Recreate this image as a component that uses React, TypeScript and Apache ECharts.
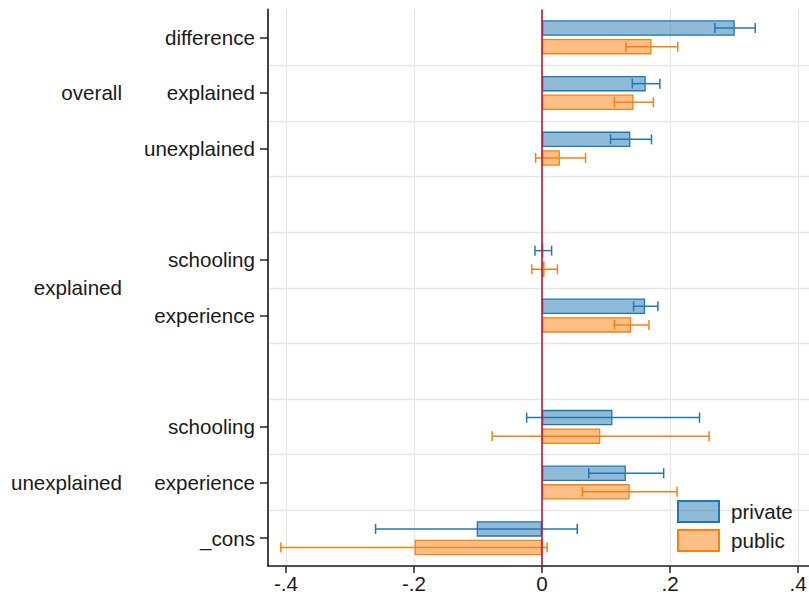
import React, { useEffect, useRef } from "react";
import * as echarts from "echarts";

// Rows of the y axis (top to bottom); blank rows are spacers
const rowKeys = ["o_diff", "o_expl", "o_unexpl", "gap1", "e_school", "e_exper", "gap2", "u_school", "u_exper", "u_cons"];
const rowLabels = ["difference", "explained", "unexplained", "", "schooling", "experience", "", "schooling", "experience", "_cons"];
// Group labels, positioned on a 0..10 row scale (row i centre = i + 0.5)
const groupPositions = [1.5, 5, 8.5];
const groupLabels = ["overall", "explained", "unexplained"];

const seriesNames = ["private", "public"];
const privateVals = [0.301, 0.162, 0.138, null, 0.002, 0.161, null, 0.110, 0.131, -0.102];
const privateLo = [0.270, 0.141, 0.107, null, -0.011, 0.143, null, -0.024, 0.073, -0.260];
const privateHi = [0.333, 0.184, 0.171, null, 0.015, 0.181, null, 0.246, 0.190, 0.055];
const publicVals = [0.171, 0.143, 0.028, null, 0.004, 0.139, null, 0.091, 0.137, -0.199];
const publicLo = [0.131, 0.113, -0.010, null, -0.016, 0.113, null, -0.078, 0.063, -0.408];
const publicHi = [0.212, 0.174, 0.068, null, 0.024, 0.167, null, 0.261, 0.211, 0.008];

const xTicks = [-0.4, -0.2, 0, 0.2, 0.4];
const xMin = -0.428;
const xMax = 0.417;

const FONT = '"Liberation Sans", Helvetica, Arial, sans-serif';
const FS = 20.6;
const BLUE = "#1f77b4";
const ORANGE = "#ff7f0e";
const BLUE_FILL = "rgba(31,119,180,0.5)";
const ORANGE_FILL = "rgba(255,127,14,0.5)";
const BAR_W = 15.5;
const BAR_GAP = 0.2;
const OFFSET = (BAR_W + BAR_W * BAR_GAP) / 2;

function fmtX(v: number): string {
  if (Math.abs(v) < 1e-9) return "0";
  const s = String(Math.round(Math.abs(v) * 1000) / 1000).replace(/^0/, "");
  return (v < 0 ? "-" : "") + s;
}

function errData(lo: (number | null)[], hi: (number | null)[]) {
  const out: any[] = [];
  for (let i = 0; i < rowKeys.length; i++) {
    if (lo[i] == null || hi[i] == null) continue;
    out.push([lo[i], hi[i], i]);
  }
  return out;
}

function makeErr(color: string, dir: number) {
  return (params: any, api: any) => {
    const p1 = api.coord([api.value(0), api.value(2)]);
    const p2 = api.coord([api.value(1), api.value(2)]);
    const y = p1[1] + dir * OFFSET;
    const cap = 5;
    const style = { stroke: color, lineWidth: 1.5, fill: "none" };
    return {
      type: "group",
      children: [
        { type: "line", shape: { x1: p1[0], y1: y, x2: p2[0], y2: y }, style },
        { type: "line", shape: { x1: p1[0], y1: y - cap, x2: p1[0], y2: y + cap }, style },
        { type: "line", shape: { x1: p2[0], y1: y - cap, x2: p2[0], y2: y + cap }, style },
      ],
    };
  };
}

export default function App() {
  const ref = useRef<HTMLDivElement>(null);
  useEffect(() => {
    if (!ref.current) return;
    const chart = echarts.init(ref.current, null, { renderer: "svg" });
    const option: any = {
      animation: false,
      backgroundColor: "#ffffff",
      textStyle: { fontFamily: FONT },
      grid: { left: 268, right: 0, top: 9.5, bottom: 29, containLabel: false, outerBoundsMode: "none" },
      legend: {
        orient: "vertical",
        left: 677,
        top: 500,
        padding: 0,
        icon: "rect",
        itemWidth: 41,
        itemHeight: 21,
        itemGap: 6,
        data: seriesNames,
        textStyle: { fontFamily: FONT, fontSize: FS, color: "#1a1a1a", padding: [0, 0, 0, 7] },
      },
      xAxis: {
        type: "value",
        min: xMin,
        max: xMax,
        axisLine: { show: true, onZero: false, lineStyle: { color: "#222", width: 1.5 } },
        axisTick: { show: true, length: 7, customValues: xTicks, lineStyle: { color: "#222", width: 1.5 } },
        axisLabel: {
          customValues: xTicks,
          formatter: (v: number) => fmtX(v),
          fontSize: FS,
          lineHeight: FS,
          color: "#1a1a1a",
          fontFamily: FONT,
          margin: 7,
        },
        splitLine: { show: true, lineStyle: { color: "#e6e6e6", width: 1.3 } },
      },
      yAxis: [
        {
          type: "category",
          inverse: true,
          data: rowKeys,
          axisLine: { show: true, onZero: false, lineStyle: { color: "#444", width: 2 } },
          axisTick: {
            show: true,
            alignWithLabel: true,
            length: 8,
            interval: (i: number) => rowLabels[i] !== "",
            lineStyle: { color: "#222", width: 1.5 },
          },
          axisLabel: {
            interval: 0,
            formatter: (_v: string, i: number) => rowLabels[i],
            fontSize: FS,
            color: "#1a1a1a",
            fontFamily: FONT,
            margin: 13,
          },
          splitLine: {
            show: true,
            interval: (i: number) => i !== 0,
            lineStyle: { color: "#e6e6e6", width: 1.3 },
          },
        },
        {
          type: "value",
          inverse: true,
          min: 0,
          max: rowKeys.length,
          position: "left",
          offset: 0,
          axisLine: { show: false, onZero: false },
          axisTick: { show: false },
          splitLine: { show: false },
          axisLabel: {
            customValues: groupPositions,
            formatter: (v: number) => {
              const k = groupPositions.indexOf(v);
              return k >= 0 ? groupLabels[k] : "";
            },
            fontSize: FS,
            color: "#1a1a1a",
            fontFamily: FONT,
            margin: 146,
          },
        },
      ],
      series: [
        {
          name: seriesNames[0],
          type: "bar",
          xAxisIndex: 0,
          yAxisIndex: 0,
          data: privateVals,
          barWidth: BAR_W,
          barGap: BAR_GAP * 100 + "%",
          itemStyle: { color: BLUE_FILL, borderColor: BLUE, borderWidth: 1.3 },
          z: 2,
          markLine: {
            silent: true,
            symbol: "none",
            z: 10,
            label: { show: false },
            lineStyle: { color: "#c8103c", width: 1.6, type: "solid" },
            data: [{ xAxis: 0 }],
          },
        },
        {
          name: seriesNames[1],
          type: "bar",
          xAxisIndex: 0,
          yAxisIndex: 0,
          data: publicVals,
          barWidth: BAR_W,
          barGap: BAR_GAP * 100 + "%",
          itemStyle: { color: ORANGE_FILL, borderColor: ORANGE, borderWidth: 1.3 },
          z: 2,
        },
        {
          name: "private_ci",
          type: "custom",
          xAxisIndex: 0,
          yAxisIndex: 0,
          renderItem: makeErr(BLUE, -1),
          data: errData(privateLo, privateHi),
          encode: { x: [0, 1], y: 2 },
          z: 4,
        },
        {
          name: "public_ci",
          type: "custom",
          xAxisIndex: 0,
          yAxisIndex: 0,
          renderItem: makeErr(ORANGE, 1),
          data: errData(publicLo, publicHi),
          encode: { x: [0, 1], y: 2 },
          z: 4,
        },
      ],
    };
    chart.setOption(option);
    return () => chart.dispose();
  }, []);
  return (
    <div
      ref={ref}
      style={{ position: "fixed", left: 0, top: 0, width: 809, height: 595 }}
    />
  );
}
